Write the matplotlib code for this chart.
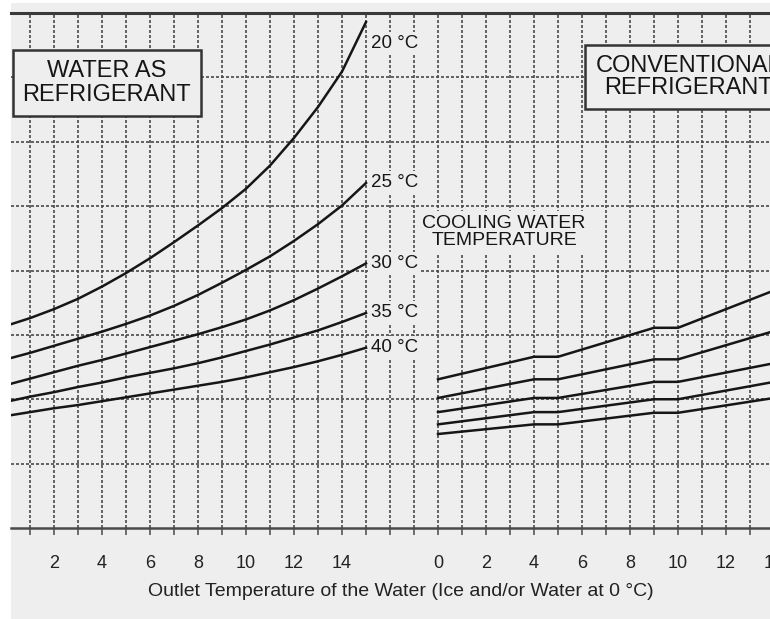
import matplotlib
matplotlib.use("Agg")
import matplotlib.pyplot as plt
import matplotlib.transforms as mtransforms
from matplotlib.patches import Rectangle

plt.rcParams["font.family"] = ["Liberation Sans", "DejaVu Sans"]

# cooling water temperatures (one curve per temperature on each side)
temps = ["20 °C", "25 °C", "30 °C", "35 °C", "40 °C"]

# water as refrigerant: outlet water temperature 0..15 °C
water_x = list(range(0, 16))
water_20 = [3.14, 3.26, 3.40, 3.56, 3.75, 3.96, 4.19, 4.44, 4.70, 4.97, 5.27, 5.63, 6.06, 6.54, 7.09, 7.86]
water_25 = [2.62, 2.72, 2.83, 2.94, 3.05, 3.17, 3.30, 3.45, 3.62, 3.81, 4.01, 4.22, 4.46, 4.72, 5.01, 5.36]
water_30 = [2.22, 2.32, 2.42, 2.52, 2.61, 2.71, 2.81, 2.91, 3.01, 3.12, 3.24, 3.38, 3.54, 3.72, 3.91, 4.11]
water_35 = [1.96, 2.04, 2.11, 2.19, 2.26, 2.34, 2.41, 2.48, 2.56, 2.65, 2.75, 2.85, 2.96, 3.07, 3.20, 3.34]
water_40 = [1.74, 1.80, 1.86, 1.91, 1.97, 2.03, 2.09, 2.15, 2.21, 2.27, 2.34, 2.42, 2.50, 2.59, 2.69, 2.80]

# conventional refrigerant: outlet water temperature 0..14 °C
conv_x = [0, 4, 5, 9, 10, 14]
conv_20 = [2.31, 2.66, 2.66, 3.11, 3.11, 3.69]
conv_25 = [2.02, 2.31, 2.31, 2.62, 2.62, 3.06]
conv_30 = [1.80, 2.02, 2.02, 2.27, 2.27, 2.56]
conv_35 = [1.61, 1.80, 1.80, 2.00, 2.00, 2.27]
conv_40 = [1.46, 1.61, 1.61, 1.79, 1.79, 2.02]

tick_values = [0, 2, 4, 6, 8, 10, 12, 14]

water = [water_20, water_25, water_30, water_35, water_40]
conv = [conv_20, conv_25, conv_30, conv_35, conv_40]

offset = 18  # where the right-hand panel starts on the shared axis
paper = "#eeeeee"
ink = "#161616"

fig = plt.figure(figsize=(7.70, 6.19), dpi=100, facecolor="white")
fig.patches.append(Rectangle((11 / 770, 0), 1 - 11 / 770, 616 / 619,
                             transform=fig.transFigure, facecolor=paper,
                             edgecolor="none", zorder=-10))
ax = fig.add_axes([11 / 770, 1 - 528 / 619, 1 - 11 / 770, (528 - 13) / 619])
ax.set_facecolor(paper)
ax.set_xlim(0.21, 31.83)
ax.set_ylim(0, 8)

# grid
grid_kw = dict(color="#4a4a4a", lw=1.2, linestyle=(0, (1.8, 1.2)), zorder=1)
for gx in range(1, 32):
    ax.axvline(gx, **grid_kw)
for gy in range(1, 8):
    ax.axhline(gy, **grid_kw)

# curves
for ys in water:
    ax.plot(water_x, ys, color=ink, lw=1.8, zorder=3)
for ys in conv:
    ax.plot([x + offset for x in conv_x], ys, color=ink, lw=1.8, zorder=3)

# curve labels
label_y = [7.53, 5.37, 4.11, 3.35, 2.80]
for t, ly in zip(temps, label_y):
    ax.text(15.2, ly, t, fontsize=13.5, color=ink, ha="left", va="center", zorder=4,
            bbox=dict(boxstyle="square,pad=0.15", fc=paper, ec="none"))

ax.text(20.75, 4.6, "COOLING WATER\nTEMPERATURE", fontsize=14, color=ink,
        ha="center", va="center", linespacing=1.05, zorder=4,
        bbox=dict(boxstyle="square,pad=0.2", fc=paper, ec="none"))

box_kw = dict(boxstyle="square,pad=0.42", fc=paper, ec="#333333", lw=1.8)
ax.text(4.2, 6.91, "WATER AS\nREFRIGERANT", fontsize=17, color=ink,
        ha="center", va="center", linespacing=1.1, zorder=5, bbox=box_kw)
ax.text(28.42, 7.01, "CONVENTIONAL\nREFRIGERANT", fontsize=17, color=ink,
        ha="center", va="center", linespacing=1.0, zorder=5, bbox=box_kw,
        clip_on=False)

# frame and ticks
for side in ["left", "right"]:
    ax.spines[side].set_visible(False)
ax.spines["top"].set_color("#3a3a3a")
ax.spines["top"].set_linewidth(2.2)
ax.spines["bottom"].set_color("#4a4a4a")
ax.spines["bottom"].set_linewidth(1.8)
ax.set_xticks(range(1, 32))
ax.set_yticks([])
ax.tick_params(axis="x", direction="out", length=5, width=1.1, color="#4a4a4a",
               labelbottom=False)

trans = mtransforms.blended_transform_factory(ax.transData, ax.transAxes)
lab_y = -35 / 515
for v in tick_values:
    if v > 0:
        ax.text(v, lab_y, str(v), transform=trans, fontsize=13, color="#222222",
                ha="center", va="center", clip_on=False)
    ax.text(v + offset, lab_y, str(v), transform=trans, fontsize=13, color="#222222",
            ha="center", va="center", clip_on=False)

fig.text(401 / 770, 1 - 592 / 619,
         "Outlet Temperature of the Water (Ice and/or Water at 0 °C)",
         fontsize=14, color="#222222", ha="center", va="center")

fig.savefig("out.png", dpi=100, facecolor="white")
